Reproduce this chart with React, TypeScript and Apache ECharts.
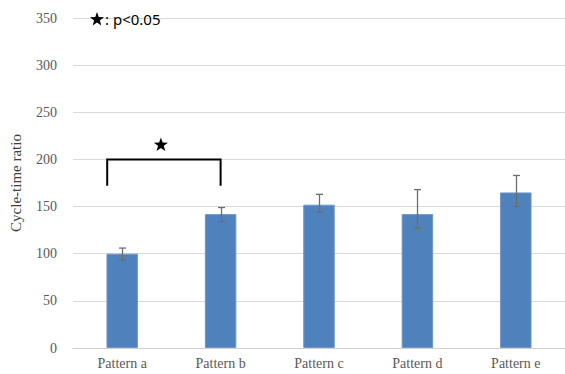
import React, { useEffect, useRef } from "react";
import * as echarts from "echarts";

const categories = ["Pattern a", "Pattern b", "Pattern c", "Pattern d", "Pattern e"];
const means = [100, 142, 152, 142, 165];
const errLow = [93, 134, 144, 127, 150];
const errHigh = [106, 149, 163, 168, 183];
const yTicks = { min: 0, max: 350, interval: 50 };
// significance bracket: [fromCategory, toCategory, topValue, legValue]
const bracket = [[0, 1, 200, 172]];
const legendText = ": p<0.05";

function starPoints(cx: number, cy: number, R: number, r: number) {
  const pts: number[][] = [];
  for (let k = 0; k < 10; k++) {
    const ang = -Math.PI / 2 + (k * Math.PI) / 5;
    const rad = k % 2 === 0 ? R : r;
    pts.push([cx + rad * Math.cos(ang), cy + rad * Math.sin(ang)]);
  }
  return pts;
}

export default function App() {
  const ref = useRef<HTMLDivElement>(null);
  useEffect(() => {
    if (!ref.current) return;
    const chart = echarts.init(ref.current, null, { renderer: "svg" });
    const serif = "Liberation Serif";
    chart.setOption({
      animation: false,
      backgroundColor: "#ffffff",
      grid: { left: 67, right: 0, top: 18, bottom: 26 },
      xAxis: {
        type: "category",
        data: categories,
        axisLine: { lineStyle: { color: "#d0d0d0", width: 1 } },
        axisTick: { show: false },
        axisLabel: { color: "#595959", fontFamily: serif, fontSize: 14, margin: 8 },
      },
      yAxis: {
        type: "value",
        min: yTicks.min,
        max: yTicks.max,
        interval: yTicks.interval,
        name: "Cycle-time ratio",
        nameLocation: "middle",
        nameGap: 50,
        nameTextStyle: { color: "#404040", fontFamily: serif, fontSize: 15 },
        axisLine: { show: false },
        axisTick: { show: false },
        axisLabel: { color: "#595959", fontFamily: serif, fontSize: 14, margin: 16 },
        splitLine: { lineStyle: { color: "#d9d9d9", width: 1 } },
      },
      graphic: [
        {
          type: "polygon",
          shape: { points: starPoints(97, 19.5, 7.4, 3) },
          style: { fill: "#000" },
          z: 10,
        },
        {
          type: "text",
          x: 105,
          y: 19,
          style: {
            text: legendText,
            fill: "#000",
            font: "15px 'Noto Sans', sans-serif",
            align: "left",
            verticalAlign: "middle",
          },
          z: 10,
        },
      ],
      series: [
        {
          type: "bar",
          data: means,
          barWidth: "32%",
          itemStyle: { color: "#4f81bd", borderColor: "#6f97cb", borderWidth: 1 },
        },
        {
          type: "custom",
          data: categories.map((_, i) => [i, errLow[i], errHigh[i]]),
          renderItem: (params: any, api: any) => {
            const lo = api.coord([api.value(0), api.value(1)]);
            const hi = api.coord([api.value(0), api.value(2)]);
            const x = Math.round(lo[0]) + 0.5;
            const w = 3.5;
            const style = { stroke: "#6d6d6d", lineWidth: 1.3, fill: "none" };
            return {
              type: "group",
              children: [
                { type: "line", shape: { x1: x, y1: lo[1], x2: x, y2: hi[1] }, style },
                { type: "line", shape: { x1: x - w, y1: lo[1], x2: x + w, y2: lo[1] }, style },
                { type: "line", shape: { x1: x - w, y1: hi[1], x2: x + w, y2: hi[1] }, style },
              ],
            };
          },
          z: 5,
        },
        {
          type: "custom",
          data: bracket,
          renderItem: (params: any, api: any) => {
            const a = api.coord([api.value(0), api.value(2)]);
            const b = api.coord([api.value(1), api.value(2)]);
            const legA = api.coord([api.value(0), api.value(3)]);
            const x1 = a[0] - 15;
            const x2 = b[0];
            const yTop = a[1];
            const yLeg = legA[1];
            const mid = (x1 + x2) / 2 - 3;
            return {
              type: "group",
              children: [
                {
                  type: "polyline",
                  shape: { points: [[x1, yLeg], [x1, yTop], [x2, yTop], [x2, yLeg]] },
                  style: { stroke: "#000", lineWidth: 2, fill: "none" },
                },
                {
                  type: "polygon",
                  shape: { points: starPoints(mid, yTop - 14.5, 7.4, 3) },
                  style: { fill: "#000" },
                },
              ],
            };
          },
          z: 6,
        },
      ],
    });
    return () => chart.dispose();
  }, []);
  return (
    <div
      ref={ref}
      style={{ position: "absolute", left: 0, top: 0, width: 565, height: 374 }}
    />
  );
}
